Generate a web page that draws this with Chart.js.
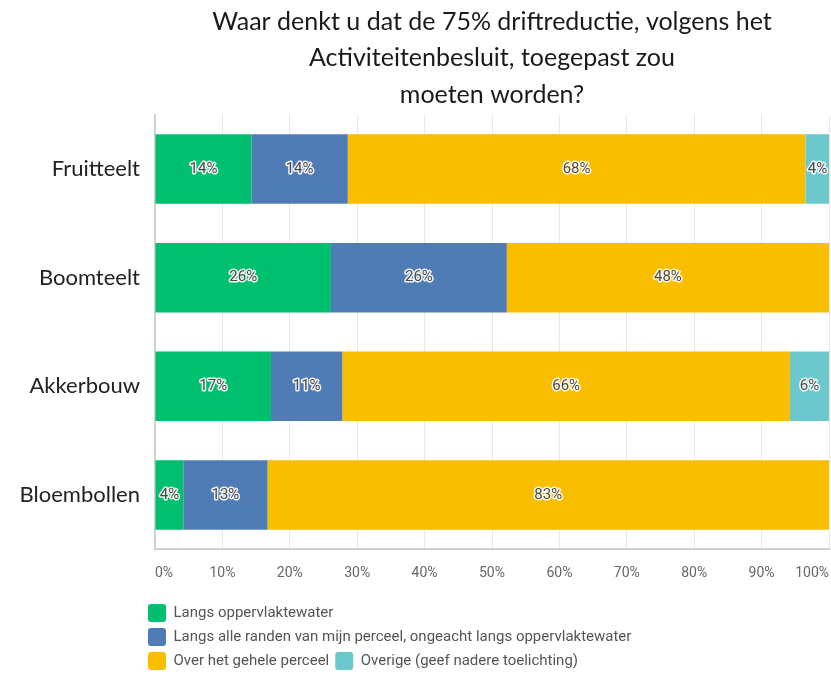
<!DOCTYPE html>
<html>
<head>
<meta charset="utf-8">
<script src="https://cdn.jsdelivr.net/npm/chart.js@4.4.0/dist/chart.umd.min.js"></script>
<style>
  html, body { margin: 0; padding: 0; background: #fff; }
  #wrap { width: 831px; height: 684px; }
</style>
</head>
<body>
<div id="wrap"><canvas id="driftChart" width="831" height="684"></canvas></div>
<script>
// categorieën en percentages
const categories = ['Fruitteelt', 'Boomteelt', 'Akkerbouw', 'Bloembollen'];
const seriesLabels = [
  'Langs oppervlaktewater',
  'Langs alle randen van mijn perceel, ongeacht langs oppervlaktewater',
  'Over het gehele perceel',
  'Overige (geef nadere toelichting)'
];
const langsWater = [14.3, 26.1, 17.2, 4.2];
const langsRanden = [14.3, 26.1, 10.6, 12.5];
const geheelPerceel = [67.9, 47.8, 66.4, 83.3];
const overige = [3.6, 0, 5.8, 0];
const xTicks = [0, 10, 20, 30, 40, 50, 60, 70, 80, 90, 100];
const titleLines = [
  'Waar denkt u dat de 75% driftreductie, volgens het',
  'Activiteitenbesluit, toegepast zou',
  'moeten worden?'
];

const colors = ['#00BF6F', '#507CB6', '#F9BE00', '#6BC8CD'];

// labels in het midden van elk segment
const barLabels = {
  id: 'barLabels',
  afterDatasetsDraw(chart) {
    const ctx = chart.ctx;
    ctx.save();
    ctx.font = '15px Roboto';
    ctx.textAlign = 'center';
    ctx.textBaseline = 'middle';
    ctx.lineJoin = 'round';
    chart.data.datasets.forEach((ds, i) => {
      const meta = chart.getDatasetMeta(i);
      meta.data.forEach((bar, j) => {
        const v = ds.data[j];
        if (!v) return;
        const txt = Math.round(v) + '%';
        const x = (bar.x + bar.base) / 2;
        ctx.lineWidth = 3;
        ctx.strokeStyle = 'rgba(255,255,255,0.9)';
        ctx.strokeText(txt, x, bar.y);
        ctx.fillStyle = '#4a4a4a';
        ctx.fillText(txt, x, bar.y);
      });
    });
    ctx.restore();
  }
};

// legenda iets naar links schuiven, zoals in het origineel
const legendShift = {
  id: 'legendShift',
  afterLayout(chart) {
    chart.legend.left -= 13;
    chart.legend.right -= 13;
  }
};

const datasets = [langsWater, langsRanden, geheelPerceel, overige].map((d, i) => ({
  label: seriesLabels[i],
  data: d,
  backgroundColor: colors[i],
  borderWidth: 0,
  categoryPercentage: 0.64,
  barPercentage: 1
}));

const ctx = document.getElementById('driftChart').getContext('2d');
const driftChart = new Chart(ctx, {
  type: 'bar',
  data: { labels: categories, datasets: datasets },
  options: {
    indexAxis: 'y',
    responsive: false,
    animation: false,
    layout: { padding: { left: 0, right: 2, top: 0, bottom: 4 } },
    plugins: {
      title: {
        display: true,
        text: titleLines,
        fullSize: false,
        color: '#1a1a1a',
        font: { family: 'Lato', size: 25, weight: 'normal', lineHeight: 1.45 },
        padding: { top: 4, bottom: 2 }
      },
      legend: {
        position: 'bottom',
        align: 'start',
        fullSize: false,
        labels: {
          boxWidth: 18,
          boxHeight: 18,
          padding: 6,
          color: '#555',
          font: { family: 'Roboto', size: 15 },
          useBorderRadius: true,
          borderRadius: 3
        }
      },
      tooltip: { enabled: false }
    },
    scales: {
      x: {
        stacked: true,
        min: 0,
        max: 100,
        afterBuildTicks: scale => { scale.ticks = xTicks.map(v => ({ value: v })); },
        afterFit: scale => { scale.paddingLeft = 0; scale.paddingRight = 0; },
        grid: { color: '#e8e8e8', drawTicks: false },
        border: { color: '#cfcfcf', width: 2 },
        ticks: {
          align: 'inner',
          padding: 16,
          color: '#666',
          font: { family: 'Roboto', size: 14 },
          callback: v => v + '%'
        }
      },
      y: {
        stacked: true,
        afterFit: scale => { scale.width = 155; },
        grid: { display: false },
        border: { color: '#cfcfcf', width: 2 },
        ticks: {
          padding: 7,
          color: '#222',
          font: { family: 'Lato', size: 22 }
        }
      }
    }
  },
  plugins: [barLabels, legendShift]
});
</script>
</body>
</html>
